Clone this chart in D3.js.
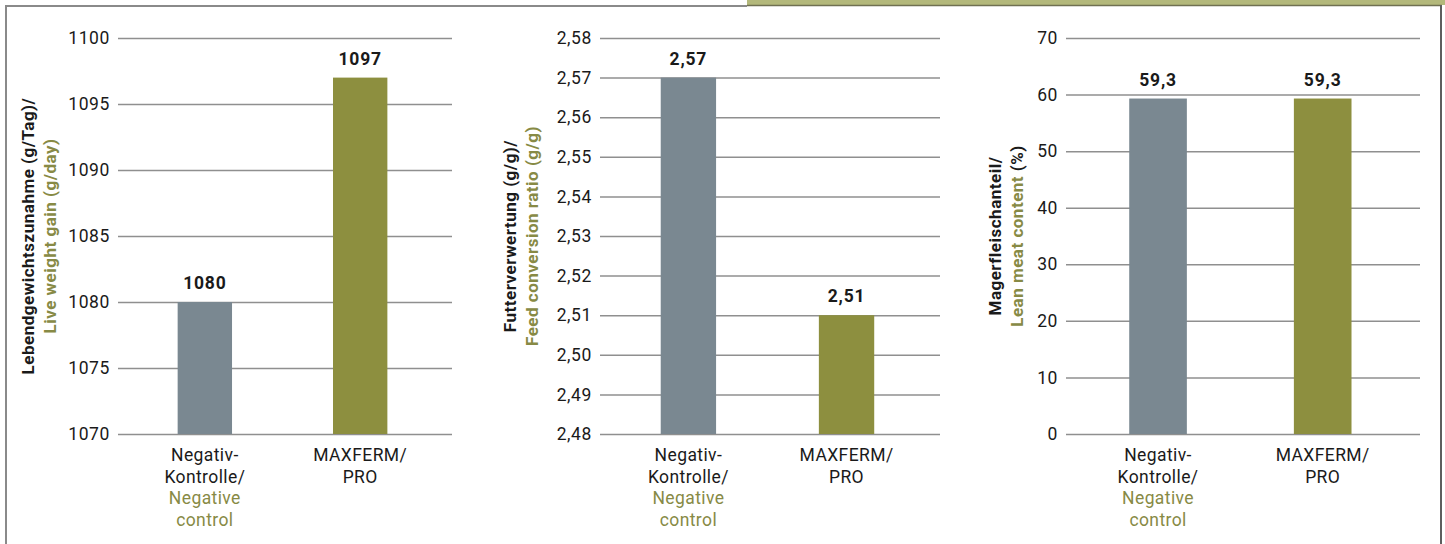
<!DOCTYPE html>
<html>
<head>
<meta charset="utf-8">
<script src="https://cdn.jsdelivr.net/npm/d3@7"></script>
<style>
  html, body { margin: 0; padding: 0; background: #fff; }
  svg { display: block; font-family: Roboto, "DejaVu Sans", sans-serif; }
</style>
</head>
<body>
<svg id="chart" width="1445" height="544"></svg>
<script>
// ---- data ----
const categories = ["Negativ-Kontrolle", "MAXFERM/PRO"];
const categoryLinesDe = [["Negativ-", "Kontrolle/"], ["MAXFERM/", "PRO"]];
const categoryLinesEn = [["Negative", "control"], []];

const weightGain = [1080, 1097];
const feedConversion = [2.57, 2.51];
const leanMeat = [59.3, 59.3];

const weightTicks = [1070, 1075, 1080, 1085, 1090, 1095, 1100];
const feedTicks = [2.48, 2.49, 2.50, 2.51, 2.52, 2.53, 2.54, 2.55, 2.56, 2.57, 2.58];
const leanTicks = [0, 10, 20, 30, 40, 50, 60, 70];

const titleWeightDe = "Lebendgewichtszunahme (g/Tag)/";
const titleWeightEn = "Live weight gain (g/day)";
const titleFeedDe = "Futterverwertung (g/g)/";
const titleFeedEn = "Feed conversion ratio (g/g)";
const titleLeanDe = "Magerfleischanteil/";
const titleLeanEn = "Lean meat content";
const titleLeanUnit = " (%)";

// ---- style ----
const GREY = "#7a8891", OLIVE = "#8d8f3f", TEXT = "#1a1a1a", OLIVE_TEXT = "#878a45", GRID = "#8f8f8f";
const barColors = [GREY, OLIVE];

const svg = d3.select("#chart");

// frame
svg.append("rect").attr("x", 747).attr("y", 0).attr("width", 698).attr("height", 5).attr("fill", "#b3b87b");
svg.append("line").attr("x1", 747).attr("x2", 1442).attr("y1", 5.5).attr("y2", 5.5).attr("stroke", "#6f7052").attr("stroke-width", 1.5);
svg.append("line").attr("x1", 5).attr("x2", 747).attr("y1", 6).attr("y2", 6).attr("stroke", "#8a8a8a").attr("stroke-width", 2);
svg.append("line").attr("x1", 6).attr("x2", 6).attr("y1", 5).attr("y2", 544).attr("stroke", "#8a8a8a").attr("stroke-width", 2);
svg.append("line").attr("x1", 1441).attr("x2", 1441).attr("y1", 5).attr("y2", 544).attr("stroke", "#5e5e5e").attr("stroke-width", 2);

const fmtComma = d => d3.format(".2f")(d).replace(".", ",");
const fmtInt = d => d3.format("d")(d);
const fmtOne = d => d3.format(".1f")(d).replace(".", ",");

const yTop = 38, yBottom = 434;

function panel(cfg) {
  const g = svg.append("g");
  const x = d3.scaleBand().domain(categories).range([cfg.left, cfg.right])
    .paddingInner(0.65).paddingOuter(0.4).align(0.48);
  const y = d3.scaleLinear().domain([cfg.ticks[0], cfg.ticks[cfg.ticks.length - 1]]).range([yBottom, yTop]);

  const axis = d3.axisLeft(y).tickValues(cfg.ticks).tickFormat(cfg.tickFmt)
    .tickSize(-(cfg.right - cfg.left)).tickPadding(8);
  const ag = g.append("g").attr("transform", `translate(${cfg.left},0)`).call(axis);
  ag.select(".domain").remove();
  ag.selectAll(".tick line").attr("stroke", GRID).attr("stroke-width", 1.5);
  ag.selectAll(".tick text").attr("fill", TEXT).attr("font-size", 17.5).attr("letter-spacing", 0.6)
    .attr("font-family", "Roboto, sans-serif").attr("x", -8);

  // bars
  g.selectAll("rect.bar").data(cfg.values).join("rect").attr("class", "bar")
    .attr("x", (d, i) => x(categories[i]))
    .attr("width", x.bandwidth())
    .attr("y", d => y(d))
    .attr("height", d => y(cfg.ticks[0]) - y(d))
    .attr("fill", (d, i) => barColors[i]);

  // value labels with white background
  cfg.values.forEach((v, i) => {
    const cx = x(categories[i]) + x.bandwidth() / 2;
    const t = g.append("text").attr("x", cx).attr("y", y(v) - 13)
      .attr("text-anchor", "middle").attr("font-size", 17.5).attr("font-weight", "bold")
      .attr("letter-spacing", 0.8).attr("fill", TEXT).text(cfg.valFmt(v));
    const bb = t.node().getBBox();
    g.insert("rect", () => t.node()).attr("x", bb.x - 5).attr("y", bb.y - 2)
      .attr("width", bb.width + 10).attr("height", bb.height + 4).attr("fill", "#fff");
  });

  // category labels
  categories.forEach((c, i) => {
    const cx = x(c) + x.bandwidth() / 2;
    const lines = categoryLinesDe[i].map(s => [s, TEXT]).concat(categoryLinesEn[i].map(s => [s, OLIVE_TEXT]));
    lines.forEach((l, k) => {
      g.append("text").attr("x", cx).attr("y", yBottom + 27 + k * 21.7)
        .attr("text-anchor", "middle").attr("font-size", 17.5).attr("letter-spacing", 0.4)
        .attr("fill", l[1]).text(l[0]);
    });
  });

  // axis title
  const cy = (yTop + yBottom) / 2;
  g.append("text").attr("transform", `translate(${cfg.titleX},${cy}) rotate(-90)`)
    .attr("text-anchor", "middle").attr("font-size", 17).attr("font-weight", "bold")
    .attr("letter-spacing", 0.5).attr("fill", TEXT)
    .text(cfg.titleDe);
  const t2 = g.append("text").attr("transform", `translate(${cfg.titleX + 22},${cy}) rotate(-90)`)
    .attr("text-anchor", "middle").attr("font-size", 17).attr("font-weight", "bold").attr("letter-spacing", 0.5);
  t2.append("tspan").attr("fill", OLIVE_TEXT).text(cfg.titleEn);
  if (cfg.titleUnit) t2.append("tspan").attr("fill", TEXT).text(cfg.titleUnit);
}

panel({ left: 118, right: 452, ticks: weightTicks, tickFmt: fmtInt, values: weightGain, valFmt: fmtInt,
  titleX: 34, titleDe: titleWeightDe, titleEn: titleWeightEn });
panel({ left: 600, right: 940, ticks: feedTicks, tickFmt: fmtComma, values: feedConversion, valFmt: fmtComma,
  titleX: 516, titleDe: titleFeedDe, titleEn: titleFeedEn });
panel({ left: 1066, right: 1420, ticks: leanTicks, tickFmt: fmtInt, values: leanMeat, valFmt: fmtOne,
  titleX: 1001, titleDe: titleLeanDe, titleEn: titleLeanEn, titleUnit: titleLeanUnit });
</script>
</body>
</html>
